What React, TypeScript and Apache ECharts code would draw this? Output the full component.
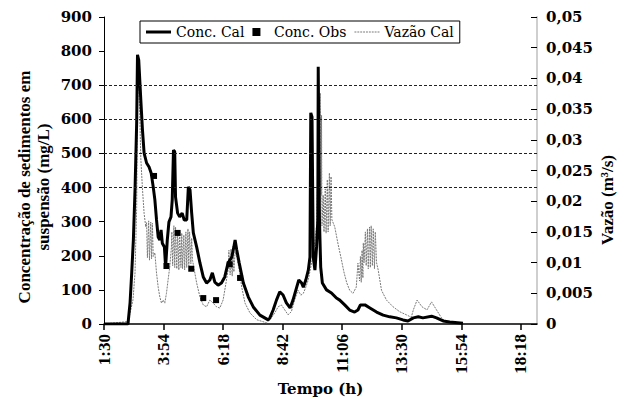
import { useEffect, useRef } from 'react';
import * as echarts from 'echarts';

// Time is stored as minutes elapsed since 1:30.
const timeTickLabels = ['1:30', '3:54', '6:18', '8:42', '11:06', '13:30', '15:54', '18:18'];
const TICK_STEP = 144;
const AXIS_END = 1047;

// Simulated suspended sediment concentration (mg/L)
const concCalTime = [
  0, 58, 63, 67, 71, 75, 79, 81, 84, 89,
  93, 97, 103, 109, 114, 119, 123, 127, 131, 135,
  138, 141, 146, 149, 153, 157, 162, 165, 168, 171,
  173, 178, 183, 189, 194, 200, 204, 208, 212, 216,
  224, 232, 240, 248, 256, 262, 268, 276, 284, 292,
  300, 309, 314, 317, 321, 327, 337, 349, 361, 377,
  397, 401, 409, 417, 425, 433, 441, 450, 457, 466,
  471, 478, 482, 488, 494, 498, 500, 503, 506, 510,
  514, 517, 518, 521, 524, 528, 538, 550, 562, 570,
  582, 594, 606, 614, 620, 631, 643, 659, 675, 691,
  707, 723, 735, 748, 760, 771, 792, 804, 820, 836,
  868,
];
const concCalValue = [
  0, 0, 62, 150, 246, 393, 589, 789, 774, 657,
  569, 501, 472, 460, 443, 402, 364, 305, 255, 246,
  276, 237, 226, 167, 246, 299, 314, 364, 510, 505,
  372, 325, 314, 325, 305, 305, 402, 393, 325, 267,
  226, 179, 138, 120, 129, 150, 123, 114, 120, 138,
  179, 196, 226, 246, 217, 179, 120, 79, 50, 26,
  12, 18, 41, 70, 94, 85, 62, 47, 70, 108,
  129, 120, 108, 129, 158, 196, 619, 607, 196, 158,
  226, 305, 754, 305, 167, 120, 100, 91, 76, 70,
  56, 41, 35, 41, 56, 56, 47, 35, 26, 21,
  18, 12, 9, 18, 21, 18, 23, 18, 9, 6,
  2,
];

// Observed concentration samples (mg/L)
const concObsTime = [121, 151, 178, 211, 240, 271, 304, 329];
const concObsValue = [434, 170, 267, 162, 76, 70, 175, 135];

// Simulated discharge (m³/s)
const vazaoTime = [
  0, 58, 63, 70, 75, 79, 81, 84, 89, 93,
  97, 101, 103, 105, 108, 110, 113, 115, 117, 119,
  123, 127, 131, 135, 139, 143, 147, 151, 155, 159,
  163, 164, 166, 169, 171, 173, 176, 178, 181, 183,
  186, 188, 190, 193, 195, 198, 200, 203, 205, 207,
  210, 212, 214, 224, 232, 240, 248, 256, 264, 272,
  280, 288, 295, 300, 302, 305, 307, 310, 312, 314,
  317, 321, 327, 333, 341, 353, 369, 393, 401, 413,
  421, 429, 437, 445, 453, 461, 469, 476, 482, 488,
  494, 500, 505, 510, 514, 517, 520, 522, 523, 525,
  526, 527, 530, 532, 535, 537, 540, 542, 545, 547,
  549, 551, 558, 566, 574, 580, 587, 594, 602, 610,
  614, 618, 620, 622, 624, 626, 627, 629, 632, 634,
  637, 639, 642, 644, 646, 649, 651, 654, 656, 659,
  663, 671, 683, 699, 715, 731, 743, 748, 757, 769,
  781, 792, 804, 816, 828, 849,
];
const vazaoValue = [
  0, 0.0004, 0.0018, 0.0039, 0.0083, 0.019, 0.035, 0.041, 0.027, 0.022,
  0.018, 0.0158, 0.0165, 0.0108, 0.0168, 0.0104, 0.0166, 0.0106, 0.0164, 0.011,
  0.0116, 0.0083, 0.006, 0.0044, 0.0034, 0.0039, 0.0034, 0.005, 0.0072, 0.0093,
  0.0125, 0.015, 0.0095, 0.016, 0.0092, 0.0158, 0.009, 0.0152, 0.0088, 0.015,
  0.0092, 0.0148, 0.009, 0.0145, 0.0088, 0.015, 0.0092, 0.0155, 0.0095, 0.015,
  0.0098, 0.014, 0.0104, 0.0067, 0.0044, 0.0031, 0.0028, 0.0039, 0.0034, 0.0028,
  0.0026, 0.0039, 0.0067, 0.0088, 0.012, 0.008, 0.0122, 0.0078, 0.012, 0.0085,
  0.0118, 0.0109, 0.0088, 0.006, 0.0034, 0.0018, 0.0007, 0.0002, 0.0007, 0.0018,
  0.0028, 0.0031, 0.0023, 0.0015, 0.002, 0.0039, 0.0055, 0.0047, 0.005, 0.006,
  0.0072, 0.0093, 0.011, 0.0135, 0.016, 0.025, 0.037, 0.02, 0.0376, 0.021,
  0.034, 0.016, 0.021, 0.015, 0.022, 0.0148, 0.0235, 0.015, 0.0246, 0.016,
  0.024, 0.017, 0.0158, 0.013, 0.0105, 0.0085, 0.0067, 0.0055, 0.005, 0.006,
  0.0099, 0.007, 0.011, 0.0068, 0.012, 0.0075, 0.0132, 0.01, 0.015, 0.0095,
  0.0155, 0.009, 0.0158, 0.0092, 0.016, 0.0095, 0.0155, 0.009, 0.015, 0.01,
  0.0088, 0.0055, 0.0039, 0.0028, 0.002, 0.0015, 0.0011, 0.0023, 0.0039, 0.0028,
  0.0023, 0.0036, 0.0023, 0.001, 0.0003, 0.0002,
];

// Reference levels drawn as dotted horizontal lines (mg/L)
const gridLevels = [400, 500, 600, 700];

const zip = (t: number[], v: number[]) => t.map((x, i) => [x, v[i]]);

const LABEL_FONT = 'DejaVu Serif';
const ROT_FONT = 'Liberation Serif';

// Legend glyphs: a solid bar, a square and a dotted rule
const ICON_SOLID = 'path://M0,0h25v3h-25z';
const ICON_SQUARE = 'path://M0,0h1v1h-1z';
const ICON_DOTTED =
  'path://' +
  Array.from({ length: 9 }, (_, i) => `M${i * 3},0h2v1h-2z`).join('');

export default function App() {
  const ref = useRef<HTMLDivElement>(null);

  useEffect(() => {
    document.body.style.margin = '0';
    if (!ref.current) return;
    const chart = echarts.init(ref.current, null, { renderer: 'svg' });

    const option: any = {
      animation: false,
      backgroundColor: '#fff',
      grid: { left: 104, right: 92, top: 17, bottom: 75, outerBoundsMode: 'none' },
      legend: {
        left: 140,
        top: 21,
        itemWidth: 25,
        itemHeight: 8,
        itemGap: 8,
        padding: [4, 6],
        borderColor: '#000',
        borderWidth: 1,
        backgroundColor: '#fff',
        textStyle: { fontFamily: LABEL_FONT, fontSize: 14, color: '#000' },
        data: [
          { name: 'Conc. Cal', icon: ICON_SOLID },
          { name: 'Conc. Obs', icon: ICON_SQUARE },
          { name: 'Vazão Cal', icon: ICON_DOTTED },
        ],
      },
      xAxis: {
        type: 'value',
        min: 0,
        max: AXIS_END,
        interval: TICK_STEP,
        name: 'Tempo (h)',
        nameLocation: 'middle',
        nameGap: 56,
        nameTextStyle: { fontFamily: LABEL_FONT, fontWeight: 'bold', fontSize: 15, color: '#000' },
        axisLine: { lineStyle: { color: '#000', width: 1.5 } },
        axisTick: { length: 6, lineStyle: { color: '#000', width: 1.5 } },
        splitLine: { show: false },
        axisLabel: {
          rotate: 90,
          margin: 10,
          fontFamily: ROT_FONT,
          fontWeight: 'bold',
          fontSize: 17,
          color: '#000',
          showMaxLabel: false,
          formatter: (v: number) => (v % TICK_STEP === 0 ? timeTickLabels[v / TICK_STEP] ?? '' : ''),
        },
      },
      yAxis: [
        {
          type: 'value',
          min: 0,
          max: 900,
          interval: 100,
          axisLine: { show: true, lineStyle: { color: '#000', width: 1 } },
          axisTick: { show: true, length: 5, lineStyle: { color: '#000' } },
          splitLine: { show: false },
          axisLabel: {
            margin: 12,
            fontFamily: LABEL_FONT,
            fontWeight: 'bold',
            fontSize: 15,
            color: '#000',
          },
        },
        {
          type: 'value',
          position: 'right',
          min: 0,
          max: 0.05,
          interval: 0.005,
          axisLine: { show: true, lineStyle: { color: '#cfcfcf', width: 2 } },
          axisTick: { show: true, inside: true, length: 6, lineStyle: { color: '#000' } },
          splitLine: { show: false },
          axisLabel: {
            margin: 9,
            fontFamily: LABEL_FONT,
            fontWeight: 'bold',
            fontSize: 15,
            color: '#000',
            formatter: (v: number) => String(+v.toFixed(3)).replace('.', ','),
          },
        },
      ],
      graphic: [
        {
          type: 'text',
          x: 34,
          y: 187,
          rotation: Math.PI / 2,
          style: {
            text: 'Concentração de sedimentos em\nsuspensão (mg/L)',
            font: `bold 17px "${ROT_FONT}"`,
            fill: '#000',
            align: 'center',
            verticalAlign: 'middle',
            lineHeight: 19,
          },
        },
        {
          type: 'text',
          x: 607,
          y: 200,
          rotation: Math.PI / 2,
          style: {
            text: 'Vazão (m³/s)',
            font: `bold 17px "${ROT_FONT}"`,
            fill: '#000',
            align: 'center',
            verticalAlign: 'middle',
          },
        },
      ],
      series: [
        {
          name: 'Conc. Cal',
          type: 'line',
          yAxisIndex: 0,
          data: zip(concCalTime, concCalValue),
          symbol: 'none',
          z: 3,
          lineStyle: { color: '#000', width: 3 },
          itemStyle: { color: '#000' },
          markLine: {
            silent: true,
            symbol: ['none', 'none'],
            label: { show: false },
            lineStyle: { color: '#222', width: 1, type: [3, 2] },
            data: gridLevels.map((v) => ({ yAxis: v })),
          },
        },
        {
          name: 'Conc. Obs',
          type: 'scatter',
          yAxisIndex: 0,
          data: zip(concObsTime, concObsValue),
          symbol: 'rect',
          symbolSize: 6,
          z: 4,
          itemStyle: { color: '#000', opacity: 1 },
        },
        {
          name: 'Vazão Cal',
          type: 'line',
          yAxisIndex: 1,
          data: zip(vazaoTime, vazaoValue),
          symbol: 'none',
          z: 2,
          lineStyle: { color: '#7a7a7a', width: 1, type: [2, 1] },
          itemStyle: { color: '#7a7a7a' },
        },
      ],
    };

    chart.setOption(option);
    return () => chart.dispose();
  }, []);

  return <div ref={ref} style={{ width: 629, height: 399 }} />;
}
